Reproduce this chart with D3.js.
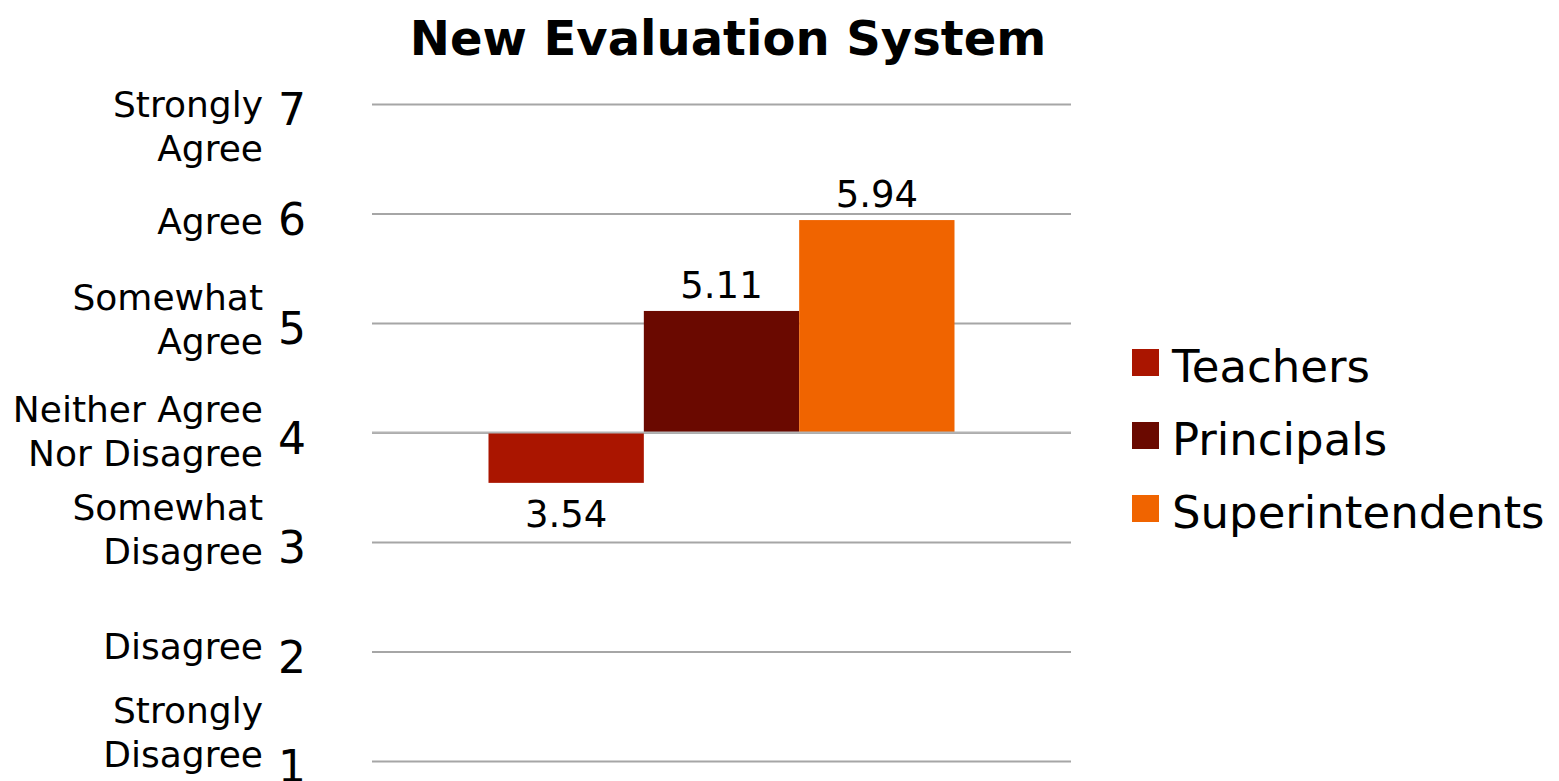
<!DOCTYPE html>
<html>
<head>
<meta charset="utf-8">
<script src="https://cdn.jsdelivr.net/npm/d3@7"></script>
<style>
  html, body { margin: 0; padding: 0; background: #fff; }
  svg { display: block; }
  text { font-family: "DejaVu Sans", sans-serif; fill: #000; }
</style>
</head>
<body>
<svg id="chart" width="1559" height="781"></svg>
<script>
// Survey responses on the new evaluation system (7-point agreement scale)
const groups = ["Teachers", "Principals", "Superintendents"];
const scores = [3.54, 5.11, 5.94];
const colors = ["#AA1500", "#6A0900", "#F06400"];
const tickValues = [1, 2, 3, 4, 5, 6, 7];
const tickLabels = [
  ["Strongly", "Disagree"],
  ["Disagree"],
  ["Somewhat", "Disagree"],
  ["Neither Agree", "Nor Disagree"],
  ["Somewhat", "Agree"],
  ["Agree"],
  ["Strongly", "Agree"]
];
const title = "New Evaluation System";
const neutral = 4;

const svg = d3.select("#chart");
const plot = { left: 372, right: 1071, top: 104, bottom: 761 };

const y = d3.scaleLinear().domain([1, 7]).range([plot.bottom, plot.top]);
const x0 = d3.scaleBand().domain(["all"]).range([plot.left, plot.right])
  .paddingInner(0).paddingOuter(0.25);
const x1 = d3.scaleBand().domain(groups).range([0, x0.bandwidth()]).padding(0);

// Title
svg.append("text")
  .attr("x", 728).attr("y", 55)
  .attr("text-anchor", "middle")
  .style("font-size", "48px").style("font-weight", "bold")
  .text(title);

// Gridlines
const grid = svg.append("g")
  .attr("transform", `translate(0,0)`)
  .call(d3.axisLeft(y).tickValues(tickValues)
    .tickSize(-(plot.right - plot.left)).tickFormat(""))
  .attr("transform", `translate(${plot.left},0)`);
grid.select(".domain").remove();
grid.selectAll(".tick line").attr("stroke", "#A6A6A6").attr("stroke-width", 2);

// Numeric tick labels
svg.append("g").selectAll("text")
  .data(tickValues)
  .join("text")
  .attr("x", 306)
  .attr("y", d => y(d) + 21)
  .attr("text-anchor", "end")
  .style("font-size", "44px")
  .text(d => d);

// Verbal scale labels (first baseline offset from each tick)
const firstLineOffset = { 1: -38, 2: 7, 3: -22, 4: -11, 5: -13, 6: 20, 7: 13 };
const lineHeight = 44;
const labelG = svg.append("g");
tickValues.forEach((v, i) => {
  const t = labelG.append("text")
    .attr("text-anchor", "end")
    .style("font-size", "36px");
  tickLabels[i].forEach((line, j) => {
    t.append("tspan")
      .attr("x", 263)
      .attr("y", y(v) + firstLineOffset[v] + j * lineHeight)
      .text(line);
  });
});

// Bars drawn from the neutral midpoint
const bars = svg.append("g").attr("transform", `translate(${x0("all")},0)`);
bars.selectAll("rect")
  .data(groups)
  .join("rect")
  .attr("x", d => x1(d))
  .attr("width", x1.bandwidth())
  .attr("y", (d, i) => y(Math.max(scores[i], neutral)))
  .attr("height", (d, i) => Math.abs(y(scores[i]) - y(neutral)))
  .attr("fill", (d, i) => colors[i]);

// Neutral line on top of bars
svg.append("line")
  .attr("x1", plot.left).attr("x2", plot.right)
  .attr("y1", y(neutral)).attr("y2", y(neutral))
  .attr("stroke", "#B4B4B4").attr("stroke-width", 2);

// Value labels
bars.selectAll("text.value")
  .data(groups)
  .join("text")
  .attr("class", "value")
  .attr("x", d => x1(d) + x1.bandwidth() / 2)
  .attr("y", (d, i) => scores[i] >= neutral ? y(scores[i]) - 13 : y(scores[i]) + 44)
  .attr("text-anchor", "middle")
  .style("font-size", "37px")
  .text((d, i) => scores[i].toFixed(2));

// Legend
const legend = svg.append("g").attr("transform", "translate(1132,382)");
const item = legend.selectAll("g")
  .data(groups)
  .join("g")
  .attr("transform", (d, i) => `translate(0,${i * 73})`);
item.append("rect")
  .attr("x", 0).attr("y", -33)
  .attr("width", 27).attr("height", 27)
  .attr("fill", (d, i) => colors[i]);
item.append("text")
  .attr("x", 40).attr("y", 0)
  .style("font-size", "45px")
  .text(d => d);
</script>
</body>
</html>
